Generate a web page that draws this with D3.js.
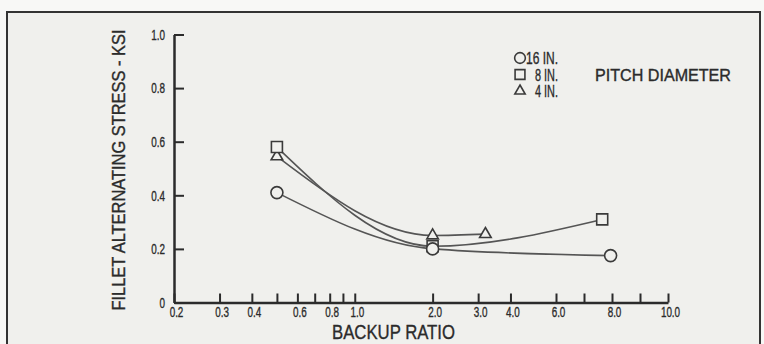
<!DOCTYPE html>
<html lang="en">
<head>
<meta charset="utf-8">
<title>Fillet alternating stress vs backup ratio</title>
<style>
body{
  margin: 0;
  background: #f8f8f6;
}
text{
  font-family: "Liberation Sans", Arial, sans-serif;
  fill: #2b2b2b;
  stroke: #2b2b2b;
  stroke-width: 0.35;
}
.axis path, .axis line{
  fill: none;
  stroke: #2b2b2b;
}
.axis path{
  stroke-width: 2.5;
}
.axis line{
  stroke-width: 2;
}
.axis text{
  font-size: 15px;
}
.curve{
  fill: none;
  stroke: #555;
  stroke-width: 1.6;
}
.marker{
  fill: #f0f0ed;
  stroke: #3a3a3a;
  stroke-width: 1.6;
}
</style>
</head>
<body>
<div id="chart"></div>
<script src="https://d3js.org/d3.v7.min.js"></script>
<script>

// data
const seriesNames = ["16 IN.", "8 IN.", "4 IN."];
const shapes = ["circle", "square", "triangle"];
const ratio16 = [0.5, 2.0, 7.95];
const stress16 = [0.41, 0.20, 0.175];
const ratio8 = [0.5, 2.0, 7.65];
const stress8 = [0.58, 0.21, 0.31];
const ratio4 = [0.5, 2.0, 3.2];
const stress4 = [0.545, 0.25, 0.255];

const xTicks = [0.2, 0.3, 0.4, 0.5, 0.6, 0.7, 0.8, 0.9, 1.0, 2.0, 3.0, 4.0, 6.0, 7.0, 8.0, 9.0, 10.0];
const xLabels = [0.2, 0.3, 0.4, 0.6, 0.8, 1.0, 2.0, 3.0, 4.0, 6.0, 8.0, 10.0];
const yTicks = [0, 0.2, 0.4, 0.6, 0.8, 1.0];

const W = 764, H = 344;
const margin = { top: 34.5, left: 174 };
const width = 494;
const height = 268;
const breakX = 382;   // the drawn axis is logarithmic up to 6, linear from 6 to 10
const squeeze = 0.66; // condensed look for tick labels

const svg = d3.select('#chart')
  .append('svg')
  .attr('width', W)
  .attr('height', H)
  .style('display', 'block');

// paper and frame
svg.append('rect')
  .attr('x', 7).attr('y', 12)
  .attr('width', 753).attr('height', H)
  .attr('fill', '#f0f0ed')
  .attr('stroke', '#333')
  .attr('stroke-width', 2);

const graph = svg.append('g')
  .attr('transform', 'translate(' + margin.left + ',' + margin.top + ')');

const xLog = d3.scaleLog().domain([0.2, 6]).range([0, breakX]);
const xLin = d3.scaleLinear().domain([6, 10]).range([breakX, width]);
function x(v) { return v <= 6 ? xLog(v) : xLin(v); }
x.domain = () => [0.2, 10];
x.range = () => [0, width];
x.copy = () => x;

const y = d3.scaleLinear().domain([0, 1]).range([height, 0]);

// axes
graph.append('g')
  .attr('class', 'axis')
  .call(d3.axisLeft(y)
    .tickValues(yTicks)
    .tickFormat(d => d === 0 ? "0" : d.toFixed(1))
    .tickSizeInner(-10)
    .tickSizeOuter(0)
    .tickPadding(9))
  .call(g => g.selectAll('text')
    .attr('fill', '#2b2b2b')
    .attr('x', -9 / squeeze)
    .attr('transform', 'scale(' + squeeze + ',1)'));

graph.append('g')
  .attr('class', 'axis')
  .attr('transform', 'translate(0,' + height + ')')
  .call(d3.axisBottom(x)
    .tickValues(xTicks)
    .tickFormat(d => xLabels.includes(d) ? d.toFixed(1) : "")
    .tickSizeInner(-9)
    .tickSizeOuter(0)
    .tickPadding(4))
  .call(g => g.selectAll('text')
    .attr('fill', '#2b2b2b')
    .attr('x', 2 / squeeze)
    .attr('transform', 'scale(' + squeeze + ',1)'));

// axis titles
graph.append('text')
  .attr('transform', 'translate(-49,' + (170 - margin.top) + ') rotate(-90)')
  .attr('text-anchor', 'middle')
  .attr('textLength', 281)
  .attr('lengthAdjust', 'spacingAndGlyphs')
  .style('font-size', '18px')
  .text("FILLET ALTERNATING STRESS - KSI");

graph.append('text')
  .attr('x', 393.5 - margin.left)
  .attr('y', height + 36.5)
  .attr('text-anchor', 'middle')
  .attr('textLength', 123)
  .attr('lengthAdjust', 'spacingAndGlyphs')
  .style('font-size', '20px')
  .text("BACKUP RATIO");

// curves and markers
const series = [
  { name: seriesNames[0], shape: shapes[0], pts: d3.zip(ratio16, stress16), w: 32 },
  { name: seriesNames[1], shape: shapes[1], pts: d3.zip(ratio8, stress8), w: 23 },
  { name: seriesNames[2], shape: shapes[2], pts: d3.zip(ratio4, stress4), w: 23 }
];

const symbolType = { circle: d3.symbolCircle, square: d3.symbolSquare, triangle: d3.symbolTriangle };
const symbolSize = { circle: 113, square: 121, triangle: 58 };

const line = d3.line()
  .x(d => x(d[0]))
  .y(d => y(d[1]))
  .curve(d3.curveMonotoneX);

graph.selectAll('.curve')
  .data(series)
  .join('path')
  .attr('class', 'curve')
  .attr('d', d => line(d.pts));

series.slice().reverse().forEach(s => {
  graph.selectAll(null)
    .data(s.pts)
    .join('path')
    .attr('class', 'marker')
    .attr('transform', d => 'translate(' + x(d[0]) + ',' + y(d[1]) + ')')
    .attr('d', d3.symbol().type(symbolType[s.shape]).size(symbolSize[s.shape]));
});

// legend
const legend = svg.append('g');
const rowY = [58, 74.5, 91];
series.forEach((s, i) => {
  legend.append('path')
    .attr('class', 'marker')
    .attr('transform', 'translate(520,' + rowY[i] + ')')
    .attr('d', d3.symbol().type(symbolType[s.shape]).size(symbolSize[s.shape] * 0.8));
  legend.append('text')
    .attr('x', 558)
    .attr('y', rowY[i] + 6)
    .attr('text-anchor', 'end')
    .attr('textLength', s.w)
    .attr('lengthAdjust', 'spacingAndGlyphs')
    .style('font-size', '16px')
    .text(s.name);
});
legend.append('text')
  .attr('x', 595)
  .attr('y', rowY[1] + 6)
  .attr('textLength', 136)
  .attr('lengthAdjust', 'spacingAndGlyphs')
  .style('font-size', '16px')
  .text("PITCH DIAMETER");

</script>
</body>
</html>
